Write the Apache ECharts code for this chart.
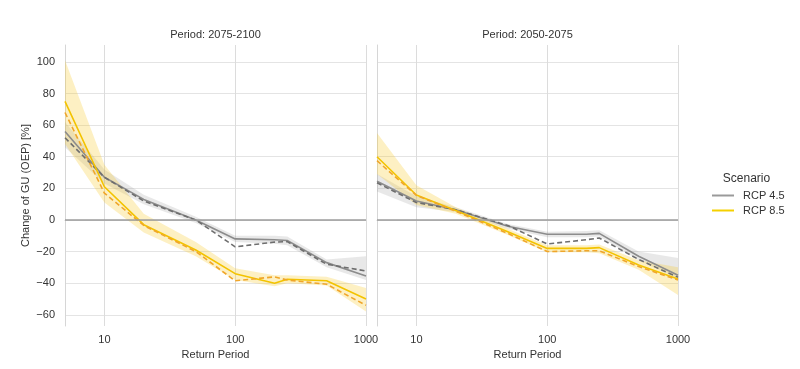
<!DOCTYPE html>
<html>
<head>
<meta charset="utf-8">
<script src="https://cdn.jsdelivr.net/npm/echarts@6/dist/echarts.min.js"></script>
<style>
html,body{margin:0;padding:0;background:#fff;}
#c{width:800px;height:369px;}
</style>
</head>
<body>
<div id="c"></div>
<script>
const returnPeriods = [5, 10, 20, 50, 100, 200, 250, 500, 1000];
const panelTitles = ['Period: 2075-2100', 'Period: 2050-2075'];
const scenarios = ['RCP 4.5', 'RCP 8.5'];

// Panel A: 2075-2100
const rcp45MeanA = [56, 27, 13, 0, -12, -12.5, -13, -27, -35.5];
const rcp45DashA = [52, 27, 12, 0, -17, -14, -13.7, -28, -32.3];
const rcp45LowA  = [46, 23, 10, -2, -14, -15, -16, -30, -38];
const rcp45UpA   = [62, 32, 16, 2, -10, -10, -10.5, -25, -23];
const rcp85MeanA = [75, 21, -3, -19, -34, -40, -37.5, -38.5, -50];
const rcp85DashA = [68, 17, -3.5, -20, -38.5, -36, -38, -40.7, -54];
const rcp85LowA  = [48, 11, -8, -23, -38, -42, -40, -41.5, -58];
const rcp85UpA   = [101, 35, 4, -14, -30.5, -35, -35, -36, -43];

// Panel B: 2050-2075
const rcp45MeanB = [24.5, 12, 6.5, -4, -9, -9, -8.5, -23, -35];
const rcp45DashB = [23.5, 11, 6.5, -3.5, -15.2, -12.5, -11.4, -25, -36.3];
const rcp45LowB  = [18, 8, 5, -5.5, -11, -11, -10.5, -25.5, -37];
const rcp45UpB   = [29, 15, 8, -2.5, -7.5, -7, -6.5, -20, -24];
const rcp85MeanB = [40, 15.8, 6, -7.5, -18, -18, -17.5, -28.5, -37.3];
const rcp85DashB = [37.5, 15.5, 5.5, -8.5, -20, -19.5, -19.5, -29.5, -38];
const rcp85LowB  = [29, 9.5, 4, -9.5, -20.5, -20.5, -21, -31.5, -47.5];
const rcp85UpB   = [55, 22, 8, -5.5, -16, -16, -15.5, -25.5, -30];

const yTicks = [-60, -40, -20, 0, 20, 40, 60, 80, 100];

const GREY = '#8c8c8c', GREY_D = '#6e6e6e';
const YEL = '#f3c300', YEL_D = '#f0a62a';
const GREY_BAND = 'rgba(150,150,150,0.22)';
const YEL_BAND = 'rgba(247,200,40,0.28)';

const pairs = (ys) => returnPeriods.map((x, i) => [x, ys[i]]);

function band(idx, lo, up, color) {
  return {
    type: 'custom', xAxisIndex: idx, yAxisIndex: idx, silent: true, z: 1,
    data: returnPeriods.map((x, i) => [x, lo[i], up[i]]),
    encode: { x: 0, y: [1, 2] },
    renderItem: function (params, api) {
      if (params.dataIndex !== 0) return;
      const top = [], bot = [];
      for (let i = 0; i < returnPeriods.length; i++) {
        top.push(api.coord([returnPeriods[i], up[i]]));
        bot.push(api.coord([returnPeriods[i], lo[i]]));
      }
      return { type: 'polygon', shape: { points: top.concat(bot.reverse()) }, style: { fill: color } };
    }
  };
}
function line(idx, name, ys, color, dashed, z) {
  return { type: 'line', name: name, xAxisIndex: idx, yAxisIndex: idx, data: pairs(ys), symbol: 'none',
    lineStyle: { color: color, width: 1.6, type: dashed ? [5, 3] : 'solid' }, itemStyle: { color: color }, z: z, silent: true };
}

const panels = [
  { m45: rcp45MeanA, d45: rcp45DashA, l45: rcp45LowA, u45: rcp45UpA, m85: rcp85MeanA, d85: rcp85DashA, l85: rcp85LowA, u85: rcp85UpA },
  { m45: rcp45MeanB, d45: rcp45DashB, l45: rcp45LowB, u45: rcp45UpB, m85: rcp85MeanB, d85: rcp85DashB, l85: rcp85LowB, u85: rcp85UpB }
];

const series = [];
panels.forEach((p, i) => {
  series.push(band(i, p.l45, p.u45, GREY_BAND));
  series.push(band(i, p.l85, p.u85, YEL_BAND));
  const zeroLine = line(i, 'zero_' + i, p.m45.map(() => null), GREY, false, 2);
  zeroLine.markLine = { silent: true, symbol: 'none', label: { show: false },
    lineStyle: { color: '#9d9d9d', width: 1.5, type: 'solid' }, data: [{ yAxis: 0 }] };
  series.push(zeroLine);
  series.push(line(i, scenarios[0], p.m45, GREY, false, 3));
  series.push(line(i, 'dash45_' + i, p.d45, GREY_D, true, 3));
  series.push(line(i, scenarios[1], p.m85, YEL, false, 4));
  series.push(line(i, 'dash85_' + i, p.d85, YEL_D, true, 4));
});

const font = 'Liberation Sans, Arial, sans-serif';
const grids = [
  { left: 65, top: 45, width: 301, height: 281 },
  { left: 377, top: 45, width: 301, height: 281 }
];

const xAxes = grids.map((g, i) => ({
  type: 'log', logBase: 10, gridIndex: i, min: 5, max: 1000,
  name: 'Return Period', nameLocation: 'middle', nameGap: 21,
  nameTextStyle: { color: '#333', fontSize: 11, fontFamily: font },
  axisLine: { show: true, lineStyle: { color: '#d6d6d6', width: 1 } },
  axisTick: { show: false },
  axisLabel: { color: '#333', fontSize: 11, fontFamily: font, margin: 8, showMinLabel: false,
    formatter: (v) => String(Math.round(v)) },
  splitLine: { show: true, showMinLine: false, lineStyle: { color: '#dcdcdc', width: 1 } },
  minorTick: { show: false }, minorSplitLine: { show: false }
}));

const yAxes = grids.map((g, i) => ({
  type: 'value', gridIndex: i, min: -67.1, max: 110.7, splitNumber: 9, minInterval: 20, maxInterval: 20,
  name: i === 0 ? 'Change of GU (OEP) [%]' : '', nameLocation: 'middle', nameGap: 34,
  nameTextStyle: { color: '#333', fontSize: 11, fontFamily: font },
  axisLine: { show: true, lineStyle: { color: '#d6d6d6', width: 1 } },
  axisTick: { show: false },
  axisLabel: { show: i === 0, color: '#333', fontSize: 11, fontFamily: font, margin: 10,
    showMinLabel: false, showMaxLabel: false,
    formatter: (v) => (yTicks.indexOf(v) >= 0 ? String(v).replace('-', '\u2212') : '') },
  splitLine: { show: true, showMinLine: false, showMaxLine: false, lineStyle: { color: '#e4e4e4', width: 1 } }
}));

const option = {
  animation: false,
  backgroundColor: '#fff',
  textStyle: { fontFamily: font },
  title: [
    { text: panelTitles[0], left: 210.5, top: 24, textAlign: 'center',
      textStyle: { fontSize: 11, fontWeight: 'normal', color: '#333', fontFamily: font } },
    { text: panelTitles[1], left: 522.5, top: 24, textAlign: 'center',
      textStyle: { fontSize: 11, fontWeight: 'normal', color: '#333', fontFamily: font } },
    { text: 'Scenario', left: 741.5, top: 168, textAlign: 'center',
      textStyle: { fontSize: 12, fontWeight: 'normal', color: '#333', fontFamily: font } }
  ],
  legend: {
    orient: 'vertical', left: 707, top: 185, itemWidth: 22, itemHeight: 2, itemGap: 4,
    data: [
      { name: scenarios[0], icon: 'rect', itemStyle: { color: '#9a9a9a' } },
      { name: scenarios[1], icon: 'rect', itemStyle: { color: '#f5d000' } }
    ],
    selectedMode: false,
    textStyle: { color: '#333', fontSize: 11, fontFamily: font, padding: [0, 0, 0, 4] }
  },
  grid: grids,
  xAxis: xAxes,
  yAxis: yAxes,
  series: series
};

const chart = echarts.init(document.getElementById('c'), null, { renderer: 'canvas' });
chart.setOption(option);
</script>
</body>
</html>
